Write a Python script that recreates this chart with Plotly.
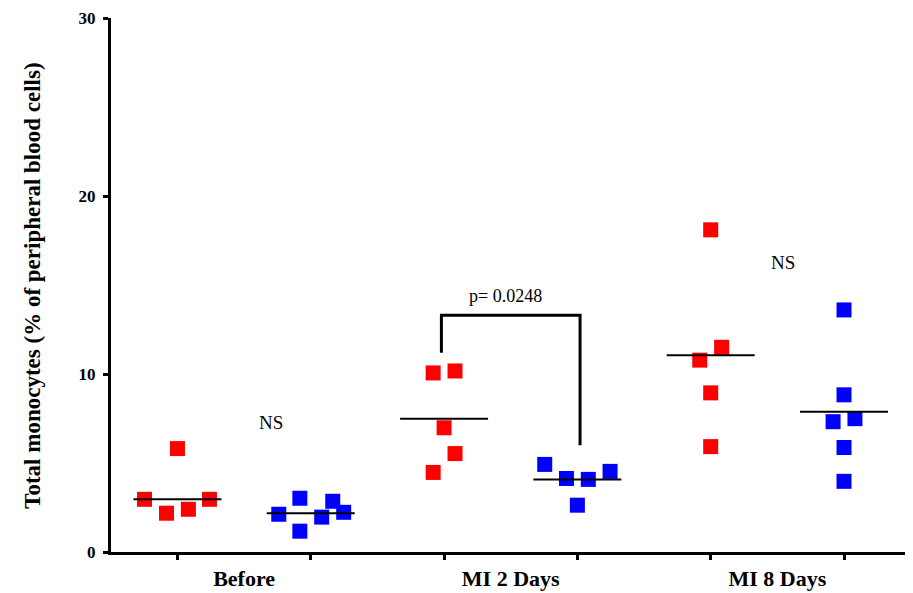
import plotly.graph_objects as go

# ---- data ----
group_labels = ["Before", "MI 2 Days", "MI 8 Days"]
group_label_pos = [0.5, 2.5, 4.5]
column_pos = [0, 1, 2, 3, 4, 5]          # red, blue, red, blue, red, blue
column_color = ["#ff0000", "#0000ff", "#ff0000", "#0000ff", "#ff0000", "#0000ff"]

values = [
    [2.96, 2.18, 5.81, 2.40, 2.96],              # Before, red
    [2.12, 3.02, 1.17, 1.96, 2.85, 2.23],        # Before, blue
    [10.06, 10.17, 6.98, 5.53, 4.47],            # MI 2 Days, red
    [4.92, 4.13, 4.08, 4.53, 2.63],              # MI 2 Days, blue
    [18.10, 11.50, 10.78, 8.94, 5.92],           # MI 8 Days, red
    [13.60, 8.83, 7.32, 7.49, 5.87, 3.97],       # MI 8 Days, blue
]
jitter = [
    [-0.247, -0.082, 0.0, 0.082, 0.24],
    [-0.24, -0.082, -0.082, 0.082, 0.165, 0.247],
    [-0.082, 0.082, 0.0, 0.082, -0.082],
    [-0.245, -0.082, 0.082, 0.245, 0.0],
    [0.0, 0.082, -0.082, 0.0, 0.0],
    [0.0, 0.0, -0.082, 0.082, 0.0, 0.0],
]
medians = [2.96, 2.18, 7.49, 4.08, 11.06, 7.88]
median_halfwidth = 0.33

bracket_x = [1.98, 1.98, 3.02, 3.02]
bracket_y = [11.2, 13.3, 13.3, 6.0]
p_text = "p= 0.0248"
p_pos = (2.46, 14.36)
ns_labels = ["NS", "NS"]
ns_pos = [(0.70, 7.26), (4.54, 16.26)]

y_ticks = [0, 10, 20, 30]
y_title = "Total monocytes (% of peripheral blood cells)"

FONT = "Liberation Serif, Times New Roman, serif"

fig = go.Figure()

for i, col in enumerate(column_pos):
    xs = [col + j for j in jitter[i]]
    fig.add_trace(go.Scatter(
        x=xs, y=values[i], mode="markers",
        marker=dict(symbol="square", size=15, color=column_color[i], line=dict(width=0)),
        showlegend=False, hoverinfo="skip"))

for i, col in enumerate(column_pos):
    fig.add_trace(go.Scatter(
        x=[col - median_halfwidth, col + median_halfwidth], y=[medians[i], medians[i]],
        mode="lines", line=dict(color="black", width=2),
        showlegend=False, hoverinfo="skip"))

fig.add_trace(go.Scatter(
    x=bracket_x, y=bracket_y, mode="lines",
    line=dict(color="black", width=3), showlegend=False, hoverinfo="skip"))

fig.add_annotation(x=p_pos[0], y=p_pos[1], text=p_text, showarrow=False,
                   font=dict(family=FONT, size=18, color="black"))
for t, (x, y) in zip(ns_labels, ns_pos):
    fig.add_annotation(x=x, y=y, text=t, showarrow=False,
                       font=dict(family=FONT, size=19, color="black"))

fig.add_annotation(xref="paper", yref="paper", x=-0.099, y=0.498,
                   text=y_title, textangle=-90, showarrow=False,
                   xanchor="center", yanchor="middle",
                   font=dict(family=FONT, size=23, color="black", weight="bold"))

fig.update_layout(
    width=905, height=585,
    margin=dict(l=102.5, r=1, t=8, b=41),
    paper_bgcolor="white", plot_bgcolor="white",
    xaxis=dict(
        range=[-0.4985, 5.51], showgrid=False, zeroline=False,
        showline=True, linecolor="black", linewidth=3,
        tickvals=group_label_pos, ticktext=group_labels, ticks="",
        ticklabelstandoff=5,
        tickfont=dict(family=FONT, size=22, color="black", weight="bold"),
        minor=dict(tickvals=column_pos, ticks="outside", ticklen=5,
                   tickwidth=3, tickcolor="black"),
    ),
    yaxis=dict(
        range=[0, 30], showgrid=False, zeroline=False,
        showline=True, linecolor="black", linewidth=3,
        tickvals=y_ticks, ticks="outside", ticklen=5, tickwidth=3,
        tickcolor="black", ticklabelstandoff=4, ticklabeloverflow="allow",
        tickfont=dict(family=FONT, size=17, color="black", weight="bold"),
    ),
)

fig.write_html("out.html")
